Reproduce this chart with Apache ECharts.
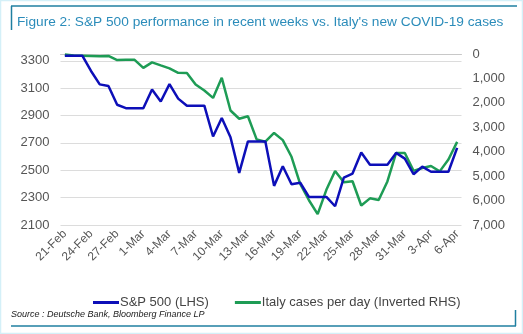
<!DOCTYPE html>
<html>
<head>
<meta charset="utf-8">
<script src="https://cdn.jsdelivr.net/npm/echarts@6/dist/echarts.min.js"></script>
<style>
html,body{margin:0;padding:0;background:#fff;}
#c{width:523px;height:334px;}
</style>
</head>
<body>
<div id="c"></div>
<script>
// Calendar days 21-Feb .. 6-Apr 2020
const categories = [
 '21-Feb','22-Feb','23-Feb','24-Feb','25-Feb','26-Feb','27-Feb','28-Feb','29-Feb',
 '1-Mar','2-Mar','3-Mar','4-Mar','5-Mar','6-Mar','7-Mar','8-Mar','9-Mar','10-Mar',
 '11-Mar','12-Mar','13-Mar','14-Mar','15-Mar','16-Mar','17-Mar','18-Mar','19-Mar','20-Mar',
 '21-Mar','22-Mar','23-Mar','24-Mar','25-Mar','26-Mar','27-Mar','28-Mar','29-Mar','30-Mar',
 '31-Mar','1-Apr','2-Apr','3-Apr','4-Apr','5-Apr','6-Apr'
];
// S&P 500 (LHS), weekends carry the previous close
const spx = [
 3338,3338,3338,3226,3128,3116,2979,2954,2954,
 2954,3090,3003,3130,3024,2972,2972,2972,2747,2882,
 2741,2481,2711,2711,2711,2386,2529,2398,2409,2305,
 2305,2305,2237,2447,2476,2630,2541,2541,2541,2627,
 2585,2471,2527,2489,2489,2489,2664
];
// Italy new cases per day (inverted RHS)
const italy = [
 20,60,70,80,90,80,250,240,240,
 566,342,466,587,769,778,1247,1492,1797,977,
 2313,2651,2547,3497,3590,3233,3526,4207,5322,5986,
 6557,5560,4789,5249,5210,6203,5909,5974,5217,4050,
 4053,4782,4668,4585,4805,4316,3599
];
const leftTicks = [2100, 3350, 200];
const rightTicks = [0, 7000, 1000];

const chart = echarts.init(document.getElementById('c'), null, {renderer:'canvas'});
const F = '"Liberation Sans", Arial, sans-serif';
const blue = '#0d0fb8', green = '#1e9c55', frame = '#1f7fa0';
chart.setOption({
  animation: false,
  backgroundColor: '#fff',
  title: {
    text: "Figure 2: S&P 500 performance in recent weeks vs. Italy's new COVID-19 cases",
    left: 17, top: 15, padding: 0,
    textStyle: {fontFamily: F, fontSize: 13.7, fontWeight: 'normal', color: '#2b8cba'}
  },
  grid: {left: 60.5, right: 61.5, top: 54, bottom: 109, containLabel: false},
  legend: {
    left: 88, top: 291, itemWidth: 26, itemHeight: 3, itemGap: 26, icon: 'rect',
    textStyle: {fontFamily: F, fontSize: 13, color: '#444', padding: [0,0,0,-4]},
    data: ['S&P 500 (LHS)', 'Italy cases per day (Inverted RHS)']
  },
  xAxis: {
    type: 'category', data: categories, boundaryGap: true,
    axisLine: {lineStyle: {color: '#c8c8c8'}},
    axisTick: {interval: 2, lineStyle: {color: '#c8c8c8'}, length: 4},
    axisLabel: {interval: 2, rotate: 45, fontFamily: F, fontSize: 12, color: '#555', margin: 7}
  },
  yAxis: [{
    type: 'value', min: leftTicks[0], max: leftTicks[1], interval: leftTicks[2],
    axisLine: {show: false}, axisTick: {show: false},
    axisLabel: {showMaxLabel: false, fontFamily: F, fontSize: 13, color: '#555', margin: 11,
      formatter: v => String(v)},
    splitLine: {lineStyle: {color: ['#dcdcdc','#dcdcdc','#dcdcdc','#dcdcdc','#dcdcdc','#dcdcdc','#dcdcdc','rgba(0,0,0,0)'], width: 1}}
  }, {
    type: 'value', inverse: true, min: rightTicks[0], max: rightTicks[1], interval: rightTicks[2],
    position: 'right',
    axisLine: {show: false}, axisTick: {show: false}, splitLine: {show: false},
    axisLabel: {fontFamily: F, fontSize: 13, color: '#555', margin: 11,
      formatter: v => v.toLocaleString('en-US')}
  }],
  series: [{
    name: 'S&P 500 (LHS)', type: 'line', yAxisIndex: 0, data: spx,
    showSymbol: false, symbol: 'none', lineStyle: {color: blue, width: 2.5}, itemStyle: {color: blue}, z: 3
  }, {
    name: 'Italy cases per day (Inverted RHS)', type: 'line', yAxisIndex: 1, data: italy,
    showSymbol: false, symbol: 'none', lineStyle: {color: green, width: 2.5}, itemStyle: {color: green}, z: 2
  }],
  graphic: [
    {type: 'rect', shape: {x: 0.5, y: 0.5, width: 522, height: 333}, style: {fill: 'none', stroke: '#d4f0f8', lineWidth: 1.5}, silent: true},
    {type: 'line', shape: {x1: 11, y1: 6, x2: 517, y2: 6}, style: {stroke: frame, lineWidth: 1.5}, silent: true},
    {type: 'line', shape: {x1: 11.5, y1: 6, x2: 11.5, y2: 30}, style: {stroke: frame, lineWidth: 1.5}, silent: true},
    {type: 'line', shape: {x1: 11, y1: 326, x2: 516, y2: 326}, style: {stroke: frame, lineWidth: 1.5}, silent: true},
    {type: 'line', shape: {x1: 515.5, y1: 310, x2: 515.5, y2: 326}, style: {stroke: frame, lineWidth: 1.5}, silent: true},
    {type: 'text', left: 11, top: 310, style: {text: 'Source : Deutsche Bank, Bloomberg Finance LP', font: 'italic 9px ' + F, fill: '#222'}, silent: true}
  ]
});
</script>
</body>
</html>
